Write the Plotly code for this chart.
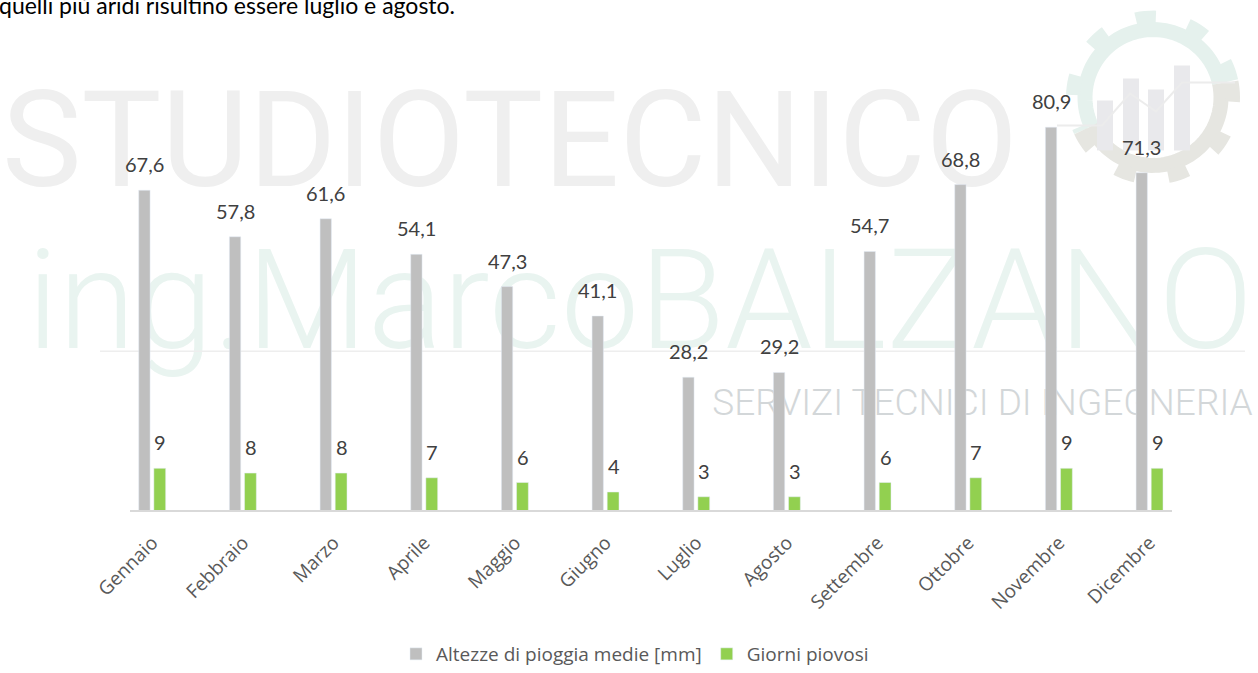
import math
import plotly.graph_objects as go

months = ["Gennaio", "Febbraio", "Marzo", "Aprile", "Maggio", "Giugno",
          "Luglio", "Agosto", "Settembre", "Ottobre", "Novembre", "Dicembre"]
rain_mm = [67.6, 57.8, 61.6, 54.1, 47.3, 41.1, 28.2, 29.2, 54.7, 68.8, 80.9, 71.3]
rainy_days = [9, 8, 8, 7, 6, 4, 3, 3, 6, 7, 9, 9]
series_names = ["Altezze di pioggia medie [mm]", "Giorni piovosi"]

GRAY = "#BFBFBF"
GREEN = "#92D050"

W, H = 1258, 673
L, R, T, B = 107, 63, 83.5, 162
PW, PH = W - L - R, H - T - B


def px(x):
    return (x - L) / PW


def py(y):
    return (H - B - y) / PH


def it(v):
    return f"{v:.1f}".replace(".", ",")


def arc_path(cx, cy, r, a0, a1, n=60):
    pts = []
    for k in range(n + 1):
        a = math.radians(a0 + (a1 - a0) * k / n)
        pts.append((px(cx + r * math.cos(a)), py(cy - r * math.sin(a))))
    return "M " + " L ".join(f"{x:.5f},{y:.5f}" for x, y in pts)


fig = go.Figure()
fig.add_trace(go.Bar(x=months, y=rain_mm, name=series_names[0], marker_color=GRAY,
                     width=0.125, offset=-0.150, hoverinfo="x+y"))
fig.add_trace(go.Bar(x=months, y=rainy_days, name=series_names[1], marker_color=GREEN,
                     width=0.130, offset=0.017, hoverinfo="x+y"))

lab_font = dict(family="Lato", size=20, color="#404040")
annotations = []
for m, v in zip(months, rain_mm):
    annotations.append(dict(x=m, y=v, text=it(v), showarrow=False, xshift=-8, yshift=12,
                            yanchor="bottom", font=lab_font))
for m, v in zip(months, rainy_days):
    annotations.append(dict(x=m, y=v, text=str(v), showarrow=False, xshift=8, yshift=12,
                            yanchor="bottom", font=lab_font))

annotations.append(dict(xref="paper", yref="paper", x=px(-3), y=py(20), xanchor="left",
                        yanchor="bottom", showarrow=False,
                        text="quelli più aridi risultino essere luglio e agosto.",
                        font=dict(family="Lato", size=23, color="#000000")))

# ---- watermark (logo), drawn below the bars ----
GX, GY = 1153, 97
MINT, LGRAY = "#e5f1ed", "#e6e6e1"
shapes = [
    dict(type="rect", xref="paper", yref="paper", x0=px(10), x1=px(1010), y0=py(205), y1=py(55),
         line=dict(width=0), layer="below",
         label=dict(text="STUDIOTECNICO", textposition="middle center",
                    font=dict(family="Roboto", size=134, color="#efefef"))),
    dict(type="rect", xref="paper", yref="paper", x0=px(30), x1=px(1250), y0=py(380), y1=py(200),
         line=dict(width=0), layer="below",
         label=dict(text="ing.MarcoBALZANO", textposition="middle center",
                    font=dict(family="Roboto", size=140, weight=300, color="#e9f4f0"))),
    dict(type="rect", xref="paper", yref="paper", x0=px(715), x1=px(1250), y0=py(432), y1=py(366),
         line=dict(width=0), layer="below",
         label=dict(text="SERVIZI TECNICI DI INGEGNERIA", textposition="middle center",
                    font=dict(family="Roboto", size=37, weight=300, color="#d3d7d9"))),
    dict(type="line", xref="paper", yref="paper", x0=px(100), x1=px(1245), y0=py(351), y1=py(351),
         line=dict(color="#eeeeee", width=1.5), layer="below"),
    # gear ring and teeth
    dict(type="path", xref="paper", yref="paper", path=arc_path(GX, GY, 68, 12, 205),
         line=dict(color=MINT, width=15), layer="below"),
    dict(type="path", xref="paper", yref="paper", path=arc_path(GX, GY, 68, 205, 372),
         line=dict(color=LGRAY, width=15), layer="below"),
    dict(type="path", xref="paper", yref="paper", path=arc_path(GX, GY, 80, 12, 205),
         line=dict(color=MINT, width=14, dash="20px,33px"), layer="below"),
    dict(type="path", xref="paper", yref="paper", path=arc_path(GX, GY, 80, 205, 372),
         line=dict(color=LGRAY, width=14, dash="20px,33px"), layer="below"),
]
for bx, top in [(1105, 100), (1131, 78), (1156, 89), (1182, 65)]:
    shapes.append(dict(type="rect", xref="paper", yref="paper", x0=px(bx - 8), x1=px(bx + 8),
                       y0=py(150), y1=py(top), line=dict(width=0), fillcolor="#e9e9ec",
                       layer="below"))
trend = [(1057, 125), (1102, 125), (1130, 93), (1156, 111), (1182, 82), (1235, 82)]
shapes.append(dict(type="path", xref="paper", yref="paper",
                   path="M " + " L ".join(f"{px(a):.5f},{py(b):.5f}" for a, b in trend),
                   line=dict(color="#ececec", width=2), layer="below"))
# category axis line
shapes.append(dict(type="line", xref="paper", yref="paper", x0=px(130), x1=px(1172), y0=0, y1=0,
                   line=dict(color="#D9D9D9", width=2)))

fig.update_layout(
    width=W, height=H,
    margin=dict(l=L, r=R, t=T, b=B, pad=0, autoexpand=False),
    paper_bgcolor="white", plot_bgcolor="rgba(0,0,0,0)",
    barmode="group",
    showlegend=True,
    legend=dict(orientation="h", xref="container", yref="container",
                xanchor="center", x=635 / W, yanchor="bottom", y=0.0,
                font=dict(family="Open Sans", size=19, color="#595959"),
                bgcolor="rgba(0,0,0,0)", traceorder="normal", borderwidth=0),
    xaxis=dict(showgrid=False, zeroline=False, showline=False, ticks="",
               tickangle=-45, tickfont=dict(family="Open Sans", size=19, color="#595959"),
               range=[-0.5, 11.5], ticklabelstandoff=16, automargin=False),
    yaxis=dict(range=[0, 90], visible=False, showgrid=False, zeroline=False, automargin=False),
    annotations=annotations,
    shapes=shapes,
)

fig.write_html("out.html", config={"displayModeBar": False},
               post_script="document.body.style.margin='0px';")
